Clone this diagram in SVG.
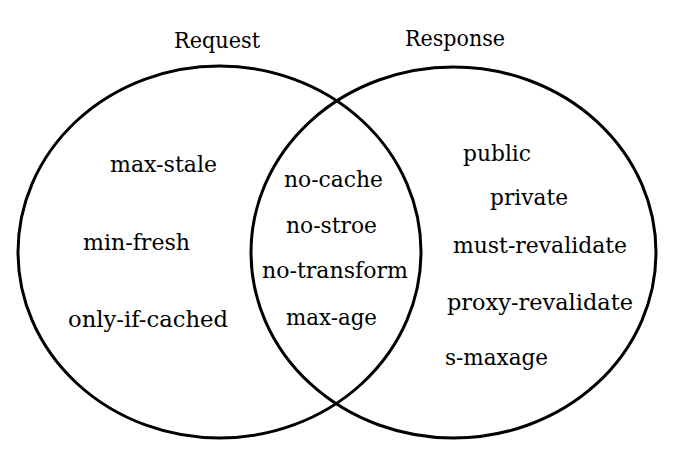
<svg xmlns="http://www.w3.org/2000/svg" width="682" height="458" viewBox="0 0 682 458">
  <style>
    .set { fill: none; stroke: #000; stroke-width: 3; }
    .lbl { font-family: "DejaVu Serif", "Liberation Serif", serif; font-size: 23px; fill: #000; }
  </style>
  <rect x="0" y="0" width="682" height="458" fill="#fff"/>
  <g id="request">
    <ellipse class="set" cx="219.5" cy="252" rx="201.5" ry="186"/>
    <text class="lbl" x="174" y="48" textLength="86" lengthAdjust="spacingAndGlyphs">Request</text>
    <text class="lbl" x="110" y="172" textLength="107" lengthAdjust="spacingAndGlyphs">max-stale</text>
    <text class="lbl" x="83" y="250" textLength="107" lengthAdjust="spacingAndGlyphs">min-fresh</text>
    <text class="lbl" x="68" y="327" textLength="160" lengthAdjust="spacingAndGlyphs">only-if-cached</text>
  </g>
  <g id="response">
    <ellipse class="set" cx="453.5" cy="252.5" rx="202.5" ry="185.5"/>
    <text class="lbl" x="405" y="46" textLength="100" lengthAdjust="spacingAndGlyphs">Response</text>
    <text class="lbl" x="463" y="161" textLength="68" lengthAdjust="spacingAndGlyphs">public</text>
    <text class="lbl" x="490" y="205" textLength="78" lengthAdjust="spacingAndGlyphs">private</text>
    <text class="lbl" x="453" y="253" textLength="174" lengthAdjust="spacingAndGlyphs">must-revalidate</text>
    <text class="lbl" x="447" y="310" textLength="186" lengthAdjust="spacingAndGlyphs">proxy-revalidate</text>
    <text class="lbl" x="445" y="365" textLength="103" lengthAdjust="spacingAndGlyphs">s-maxage</text>
  </g>
  <g id="both">
    <text class="lbl" x="284" y="187" textLength="99" lengthAdjust="spacingAndGlyphs">no-cache</text>
    <text class="lbl" x="286" y="233" textLength="91" lengthAdjust="spacingAndGlyphs">no-stroe</text>
    <text class="lbl" x="262" y="278" textLength="146" lengthAdjust="spacingAndGlyphs">no-transform</text>
    <text class="lbl" x="286" y="325" textLength="91" lengthAdjust="spacingAndGlyphs">max-age</text>
  </g>
</svg>
